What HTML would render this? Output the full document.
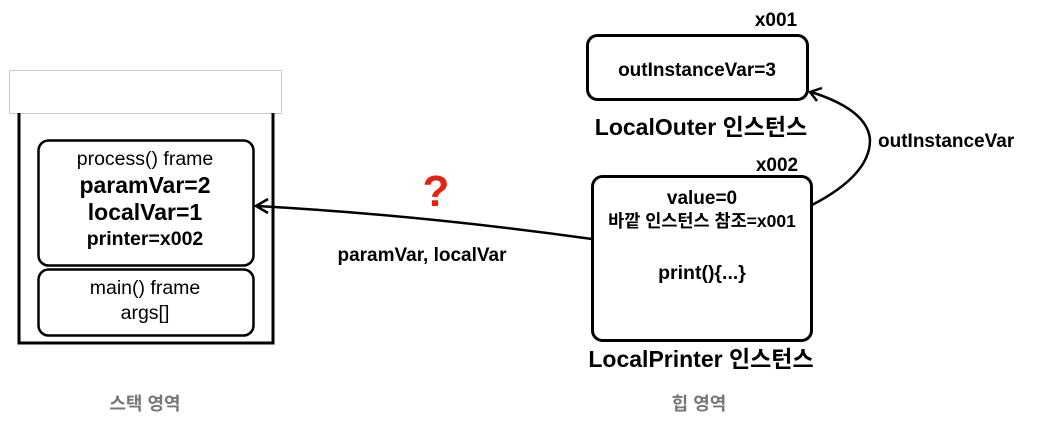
<!DOCTYPE html>
<html><head><meta charset="utf-8"><style>
html,body{margin:0;padding:0;background:#fff;}
svg text{font-family:"Liberation Sans","Noto Sans CJK KR",sans-serif;}
</style></head><body>
<svg width="1051" height="430" viewBox="0 0 1051 430" xmlns="http://www.w3.org/2000/svg">
<rect x="9.5" y="70.5" width="272" height="43" fill="#fff" stroke="#c8c8c8" stroke-width="1"/>
<path d="M19 113 V343 H273 V113" fill="none" stroke="#000" stroke-width="3"/>
<rect x="38.5" y="140.5" width="215" height="125" rx="10" fill="#fff" stroke="#000" stroke-width="2.5"/>
<rect x="38.5" y="269.5" width="215" height="66" rx="10" fill="#fff" stroke="#000" stroke-width="2.5"/>
<g text-anchor="middle" fill="#000">
<text x="145" y="165" font-size="19.5">process() frame</text>
<text x="145" y="193" font-size="23" font-weight="bold">paramVar=2</text>
<text x="145" y="220" font-size="23" font-weight="bold">localVar=1</text>
<text x="145" y="245" font-size="19.5" font-weight="bold">printer=x002</text>
<text x="145" y="294" font-size="19.5">main() frame</text>
<text x="145" y="319" font-size="19.5">args[]</text>
</g>
<path d="M592 239 Q420 215 257 206" fill="none" stroke="#000" stroke-width="2.5"/>
<path d="M268 199 L256 206 L268 213" fill="none" stroke="#000" stroke-width="2.5"/>
<text x="436" y="206" font-size="44" font-weight="bold" fill="#e8200e" text-anchor="middle">?</text>
<text x="422" y="261" font-size="19" font-weight="bold" text-anchor="middle">paramVar, localVar</text>
<text x="776" y="26" font-size="19" font-weight="bold" text-anchor="middle">x001</text>
<rect x="587.5" y="35.5" width="220" height="64" rx="10" fill="#fff" stroke="#000" stroke-width="3"/>
<text x="697" y="76" font-size="19" font-weight="bold" text-anchor="middle">outInstanceVar=3</text>
<text x="701" y="135" font-size="23" font-weight="bold" text-anchor="middle">LocalOuter 인스턴스</text>
<text x="777" y="171" font-size="19" font-weight="bold" text-anchor="middle">x002</text>
<rect x="592.5" y="176.5" width="219" height="164" rx="10" fill="#fff" stroke="#000" stroke-width="3"/>
<g text-anchor="middle" font-weight="bold">
<text x="702" y="204" font-size="19">value=0</text>
<text x="702" y="227" font-size="17.5">바깥 인스턴스 참조=x001</text>
<text x="702" y="279" font-size="19.5">print(){...}</text>
<text x="701" y="367" font-size="23">LocalPrinter 인스턴스</text>
</g>
<path d="M812 205 Q870 175 870 140 Q868 110 811 92" fill="none" stroke="#000" stroke-width="2.5"/>
<path d="M817 101 L810 92 L822 88" fill="none" stroke="#000" stroke-width="2.5"/>
<text x="878" y="147" font-size="19" font-weight="bold">outInstanceVar</text>
<text x="145" y="410" font-size="18" font-weight="bold" fill="#777" text-anchor="middle">스택 영역</text>
<text x="699" y="410" font-size="18" font-weight="bold" fill="#777" text-anchor="middle">힙 영역</text>
</svg>
</body></html>
